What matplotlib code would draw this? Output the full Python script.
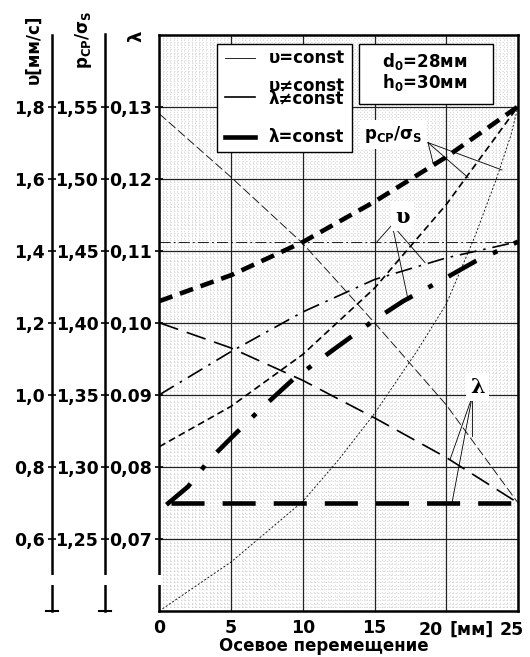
import matplotlib
matplotlib.use('Agg')
import numpy as np
import matplotlib.pyplot as plt
from matplotlib.patches import Rectangle
from matplotlib.lines import Line2D

plt.rcParams['font.family'] = 'DejaVu Sans'
plt.rcParams['font.weight'] = 'bold'
plt.rcParams['mathtext.fontset'] = 'dejavusans'
plt.rcParams['mathtext.default'] = 'bf'
plt.rcParams['lines.scale_dashes'] = False

# --- data ---
# lambda curves
x_lam_thin = [0, 5, 10, 15, 20, 25]
lam_thin = [0.129, 0.1202, 0.111, 0.100, 0.0886, 0.075]
x_lam_med = [0, 5, 10, 15, 20, 25]
lam_med = [0.100, 0.0965, 0.092, 0.0868, 0.0813, 0.075]
x_lam_thick = [0.8, 25]
lam_thick = [0.075, 0.075]

# p_CP / sigma_S curves
x_p_thin = [0, 5, 10, 12.5, 15, 18, 20, 22, 23.5, 24.5, 25]
p_thin = [1.2, 1.234, 1.276, 1.305, 1.337, 1.381, 1.413, 1.46, 1.5, 1.53, 1.55]
x_p_med = [0, 5, 10, 15, 20, 25]
p_med = [1.314, 1.342, 1.378, 1.424, 1.482, 1.55]
x_p_thick = [0, 5, 10, 15, 20, 25]
p_thick = [1.415, 1.433, 1.456, 1.484, 1.515, 1.55]

# velocity curves
x_v_thin = [0, 25]
v_thin = [1.425, 1.425]
x_v_med = [0, 5, 10, 15, 20, 25]
v_med = [1.0, 1.12, 1.23, 1.32, 1.38, 1.425]
x_v_thick = [0.5, 2, 3.5, 5, 7, 9.3, 12.4, 15, 17, 20, 22, 25]
v_thick = [0.695, 0.745, 0.82, 0.88, 0.958, 1.042, 1.133, 1.208, 1.26, 1.325, 1.37, 1.425]

x_ticks = [0, 5, 10, 15, 20, 25]
x_labels = ['0', '5', '10', '15', '', '']
lam_ticks = [0.07, 0.08, 0.09, 0.10, 0.11, 0.12, 0.13]
lam_labels = ['0,07', '0,08', '0.09', '0,10', '0,11', '0,12', '0,13']
p_ticks = [1.25, 1.30, 1.35, 1.40, 1.45, 1.50, 1.55]
p_labels = ['1,25', '1,30', '1,35', '1,40', '1,45', '1,50', '1,55']
v_ticks = [0.6, 0.8, 1.0, 1.2, 1.4, 1.6, 1.8]
v_labels = ['0,6', '0,8', '1,0', '1,2', '1,4', '1,6', '1,8']

THIN, MED, THICK = 0.6, 1.2, 3.3
FS = 12.5
W, H = 530, 657

fig = plt.figure(figsize=(5.3, 6.57), dpi=100)
ax = fig.add_axes([159.3 / W, 1 - 611 / H, (518 - 159.3) / W, 576.5 / H])
ax.set_xlim(0, 25)
ax.set_ylim(0.06, 0.14)

# fine dotted grid + major grid
ax.vlines(np.arange(0.25, 25, 0.25), 0.06, 0.14, colors='#c4c4c4', lw=0.45,
          linestyles=(0, (1, 1.6)), zorder=0.5)
ax.hlines(np.arange(0.0605, 0.14, 0.0005), 0, 25, colors='#c4c4c4', lw=0.45,
          linestyles=(0, (1, 1.6)), zorder=0.5)
ax.grid(True, color='#222222', lw=0.9)

ax.set_xticks(x_ticks)
ax.set_xticklabels(x_labels)
ax.set_yticks(lam_ticks)
ax.set_yticklabels(lam_labels)
ax.tick_params(axis='x', length=0, labelsize=FS, pad=6)
ax.tick_params(axis='y', direction='inout', length=6, width=1.2, labelsize=FS, pad=2)
for s in ax.spines.values():
    s.set_linewidth(1.8)

ax_p = ax.twinx()
ax_v = ax.twinx()
for a, off, lim, tk, lb in [(ax_p, 38.9, (1.2, 1.6), p_ticks, p_labels),
                            (ax_v, 77.5, (0.4, 2.0), v_ticks, v_labels)]:
    a.set_ylim(*lim)
    a.yaxis.set_ticks_position('left')
    a.spines['left'].set_position(('outward', off))
    a.spines['left'].set_visible(True)
    a.spines['left'].set_linewidth(1.8)
    for side in ['right', 'top', 'bottom']:
        a.spines[side].set_visible(False)
    a.set_yticks(tk)
    a.set_yticklabels(lb)
    a.tick_params(axis='y', direction='inout', length=6, width=1.2, labelsize=FS, pad=2)

# lambda (long dashes)
ax.plot(x_lam_thin, lam_thin, color='k', lw=THIN, ls=(0, (6.5, 2.5)))
ax.plot(x_lam_med, lam_med, color='k', lw=MED, ls=(0, (14.4, 6.5)))
ax.plot(x_lam_thick, lam_thick, color='k', lw=THICK, ls=(0, (23.8, 13)), clip_on=False)

# p_CP/sigma_S (short dashes)
ax_p.plot(x_p_thin, p_thin, color='k', lw=THIN, ls=(0, (1.5, 1.3)))
ax_p.plot(x_p_med, p_med, color='k', lw=MED, ls=(0, (5, 3)))
ax_p.plot(x_p_thick, p_thick, color='k', lw=THICK, ls=(0, (10, 5.8)))

# velocity (dash-dot)
ax_v.plot(x_v_thin, v_thin, color='k', lw=THIN, ls=(0, (8, 2.2, 1.4, 2.2)))
ax_v.plot(x_v_med, v_med, color='k', lw=MED, ls=(0, (12.2, 5, 1.8, 5)))
ax_v.plot(x_v_thick, v_thick, color='k', lw=THICK, ls=(0, (23, 13, 3.6, 13)))

# curve labels with leader lines
lead = dict(color='k', lw=0.6)
ax_p.text(16.29, 1.5306, 'p$_{СР}$/σ$_S$', fontsize=12, ha='center', va='center',
          bbox=dict(fc='white', ec='none', pad=3), zorder=5)
for pt in [(19.08, 1.511), (21.52, 1.5007), (23.89, 1.506)]:
    ax_p.plot([18.73, pt[0]], [1.525, pt[1]], **lead)
ax_p.plot([19.08, 20.06], [1.511, 1.515], **lead)

ax_v.text(16.93, 1.4947, 'υ', fontsize=15, family='DejaVu Serif', ha='center', va='center',
          bbox=dict(fc='white', ec='none', pad=3), zorder=5)
for pt in [(15.18, 1.425), (17.34, 1.264), (18.52, 1.367)]:
    ax_v.plot([16.23, pt[0]], [1.472, pt[1]], **lead)

ax.text(22.2, 0.0911, 'λ', fontsize=15, family='DejaVu Serif', ha='center', va='center',
        bbox=dict(fc='white', ec='none', pad=3), zorder=5)
for pt in [(20.26, 0.081), (20.4, 0.075), (21.8, 0.0843)]:
    ax.plot([21.8, pt[0]], [0.0897, pt[1]], **lead)

# legend box
tr = ax_v.transAxes
ax_v.add_patch(Rectangle((0.1616, 0.796), 0.376, 0.1875, transform=tr, fc='white',
                         ec='k', lw=1.0, zorder=10))
for yy, lw in [(0.959, THIN), (0.891, MED), (0.822, THICK)]:
    ax_v.plot([0.184, 0.267], [yy, yy], transform=tr, color='k', lw=lw, zorder=11)
ax_v.text(0.304, 0.959, 'υ=const', transform=tr, fontsize=12, va='center', zorder=11)
ax_v.text(0.304, 0.909, 'υ≠const', transform=tr, fontsize=12, va='center', zorder=11)
ax_v.text(0.304, 0.889, 'λ≠const', transform=tr, fontsize=12, va='center', zorder=11)
ax_v.text(0.304, 0.822, 'λ=const', transform=tr, fontsize=12, va='center', zorder=11)

ax_v.add_patch(Rectangle((0.557, 0.8786), 0.373, 0.105, transform=tr, fc='white',
                         ec='k', lw=1.0, zorder=10))
ax_v.text(0.741, 0.944, 'd$_0$=28мм', transform=tr, fontsize=12, ha='center',
          va='baseline', zorder=11)
ax_v.text(0.741, 0.907, 'h$_0$=30мм', transform=tr, fontsize=12, ha='center',
          va='baseline', zorder=11)

# x labels near the right end: "20 [мм] 25"
xtr = ax.get_xaxis_transform()
for xx, s in [(18.95, '20'), (21.8, '[мм]'), (24.55, '25')]:
    ax.text(xx, -0.017, s, transform=xtr, fontsize=FS, ha='center', va='top', clip_on=False)
fig.text(324 / W, 1 - 646 / H, 'Осевое перемещение', fontsize=12, ha='center', va='center')

# axis titles
fig.text(34 / W, 1 - 49 / H, 'υ[мм/с]', rotation=90, fontsize=12, ha='center', va='center')
fig.text(84 / W, 1 - 40 / H, 'p$_{СР}$/σ$_S$', rotation=90, fontsize=12, ha='center', va='center')
fig.text(136 / W, 1 - 36 / H, 'λ', rotation=90, fontsize=13, ha='center', va='center')

# broken axis marks
fig.add_artist(Rectangle((40 / W, 1 - 585 / H), 121 / W, 10 / H, transform=fig.transFigure,
                         fc='white', ec='none', zorder=20))
for xs in [51.7, 105.3]:
    fig.add_artist(Line2D([(xs - 6) / W, (xs + 6) / W], [1 - 611 / H, 1 - 611 / H],
                          transform=fig.transFigure, color='k', lw=1.5, zorder=21))

fig.savefig('out.png', dpi=100)
